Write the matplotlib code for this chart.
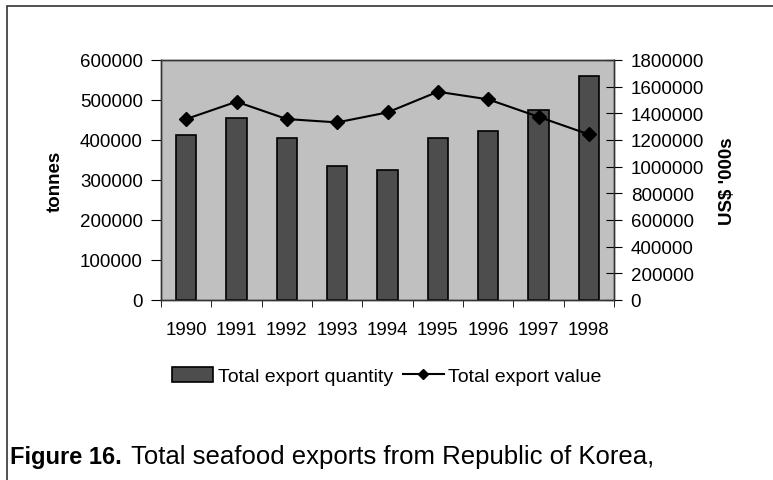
import matplotlib
matplotlib.use("Agg")
import matplotlib.pyplot as plt
from matplotlib.patches import Rectangle
import numpy as np

years = ["1990", "1991", "1992", "1993", "1994", "1995", "1996", "1997", "1998"]
quantity = [412000, 456000, 404000, 335000, 325000, 405000, 423000, 476000, 561000]
value = [1357000, 1487000, 1357000, 1332000, 1407000, 1562000, 1505000, 1374000, 1242000]

plt.rcParams['font.family'] = ['Liberation Sans', 'DejaVu Sans']
plt.rcParams['font.size'] = 13.5

fig = plt.figure(figsize=(7.73, 4.81), dpi=100)
ax = fig.add_axes([161/773, 1-301/481, (614-161)/773, (301-61)/481])
ax.set_facecolor('#c0c0c0')

x = np.arange(len(years))
ax.bar(x, quantity, width=0.41, color='#4d4d4d', edgecolor='black', linewidth=1.2, zorder=2,
       label='Total export quantity')
ax.set_xlim(-0.5, len(years) - 0.5)
ax.set_ylim(0, 600000)
ax.set_yticks(np.arange(0, 600001, 100000))
ax.set_xticks(x)
ax.set_xticklabels(years)
ax.set_xticks(np.arange(-0.5, len(years)), minor=True)
ax.tick_params(axis='x', which='major', length=0, pad=15)
ax.tick_params(axis='x', which='minor', length=5, direction='out', color='black')
ax.tick_params(axis='y', length=7, direction='out', pad=6)

ax2 = ax.twinx()
ax2.plot(x, value, color='black', marker='D', markersize=7, linewidth=1.5,
         label='Total export value', zorder=3)
ax2.set_ylim(0, 1800000)
ax2.set_yticks(np.arange(0, 1800001, 200000))
ax2.ticklabel_format(axis='y', style='plain', useOffset=False)
ax2.tick_params(axis='y', length=12, direction='inout', pad=6)

for a in (ax, ax2):
    for s in a.spines.values():
        s.set_color('#333333')
        s.set_linewidth(1.0)

fig.text(0.071, 1-181/481, 'tonnes', rotation=90, ha='center', va='center', fontweight='bold')
fig.text(727/773, 1-181/481, "US$ '000s", rotation=90, ha='center', va='center', fontweight='bold')

h1, l1 = ax.get_legend_handles_labels()
h2, l2 = ax2.get_legend_handles_labels()
leg = fig.legend(h1 + h2, l1 + l2, loc='center', bbox_to_anchor=(387/773, 1-377/481), ncol=2,
                 frameon=False, handlelength=2.1, handletextpad=0.25, columnspacing=0.5,
                 handleheight=0.8, fontsize=14, markerscale=0.75)

fig.text(10/773, 1-464/481, 'Figure 16.', fontweight='bold', va='baseline', fontsize=17)
fig.text(131/773, 1-464/481, 'Total seafood exports from Republic of Korea,', va='baseline', fontsize=18.5)

fig.patches.append(Rectangle((7/773, -0.1), 1.2, 1.1 - 7/481, transform=fig.transFigure,
                             fill=False, edgecolor='#333333', linewidth=1.2, figure=fig))

fig.savefig('out.png', dpi=100)
